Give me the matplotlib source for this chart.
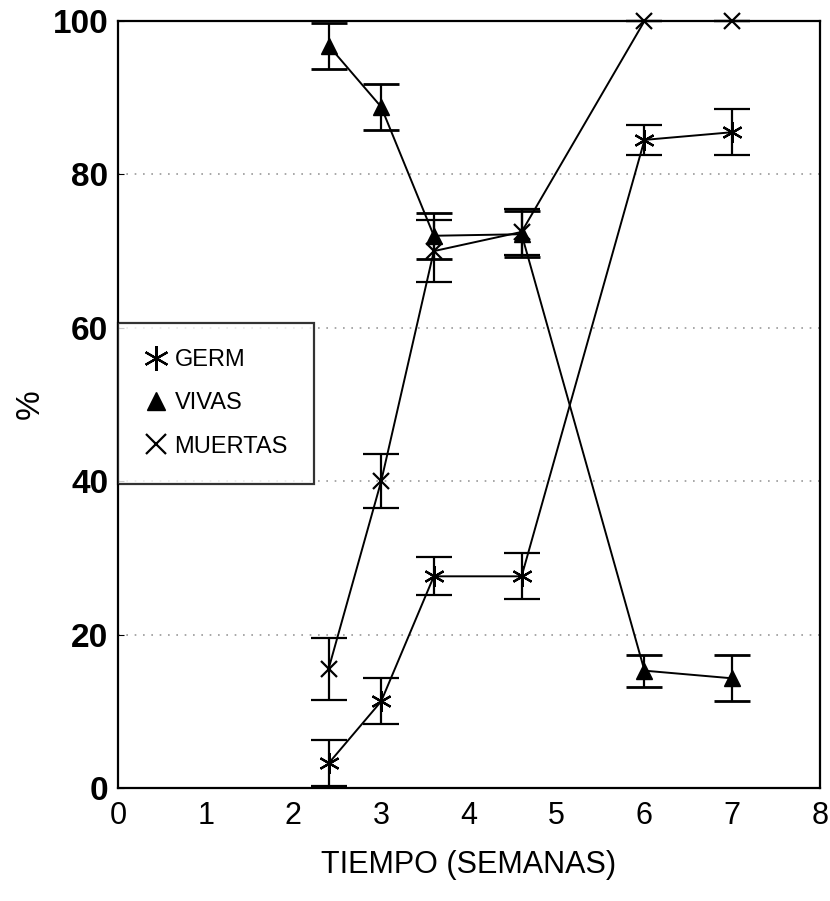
import numpy as np
import matplotlib
matplotlib.use("Agg")
import matplotlib.pyplot as plt

matplotlib.rcParams["font.family"] = ["Liberation Sans", "DejaVu Sans"]

# semanas
tiempo = [2.4, 3.0, 3.6, 4.6, 6.0, 7.0]

germ = [3.2, 11.3, 27.6, 27.6, 84.5, 85.5]
germ_err = [3.0, 3.0, 2.5, 3.0, 2.0, 3.0]

vivas = [96.8, 88.8, 72.0, 72.2, 15.3, 14.3]
vivas_err = [3.0, 3.0, 3.0, 3.0, 2.1, 3.0]

muertas = [15.5, 40.0, 70.0, 72.5, 100.0, 100.0]
muertas_err = [4.0, 3.5, 4.0, 3.0, 0.0, 0.0]

fig = plt.figure(figsize=(8.3, 9.01), dpi=100)
ax = fig.add_axes([0.142, 0.1254, 0.846, 0.8513])

eb_kw = dict(color="black", lw=1.4, capsize=13, capthick=2.0, elinewidth=1.6,
             clip_on=False)
ax.errorbar(tiempo, germ, yerr=germ_err, marker=(6, 2, 0), ms=15, mew=1.6,
            label="GERM", **eb_kw)
ax.errorbar(tiempo, vivas, yerr=vivas_err, marker="^", ms=11,
            label="VIVAS", **eb_kw)
ax.errorbar(tiempo, muertas, yerr=muertas_err, marker="x", ms=12, mew=1.6,
            label="MUERTAS", **eb_kw)

for yv in [20, 40, 60, 80]:
    ax.axhline(yv, color="#999999", lw=1.2, ls=(0, (1, 4)), zorder=0)

ax.set_xlim(0, 8)
ax.set_ylim(0, 100)
ax.set_xticks(range(0, 9))
ax.set_yticks(range(0, 101, 20))
ax.tick_params(axis="x", length=0, pad=9, labelsize=22)
ax.tick_params(axis="y", direction="in", length=4, pad=7, labelsize=24)
for lab in ax.get_yticklabels():
    lab.set_fontweight("bold")
for sp in ax.spines.values():
    sp.set_linewidth(1.6)

ax.set_xlabel("TIEMPO (SEMANAS)", fontsize=22, labelpad=14)
ax.set_ylabel("%", fontsize=24, va="center")
ax.yaxis.set_label_coords(-0.125, 0.5)

handles, labels = ax.get_legend_handles_labels()
handles = [h[0] for h in handles]
leg = ax.legend(handles, labels, loc="upper left",
                bbox_to_anchor=(0.0, 0.606), fontsize=17, frameon=True,
                fancybox=False, edgecolor="black", handlelength=1.0,
                handletextpad=0.3, labelspacing=0.9, borderpad=1.1,
                borderaxespad=0.0, markerscale=1.2)
leg.get_frame().set_linewidth(1.6)
for h in leg.legend_handles:
    h.set_linestyle("none")

fig.savefig("out.png", dpi=100)
